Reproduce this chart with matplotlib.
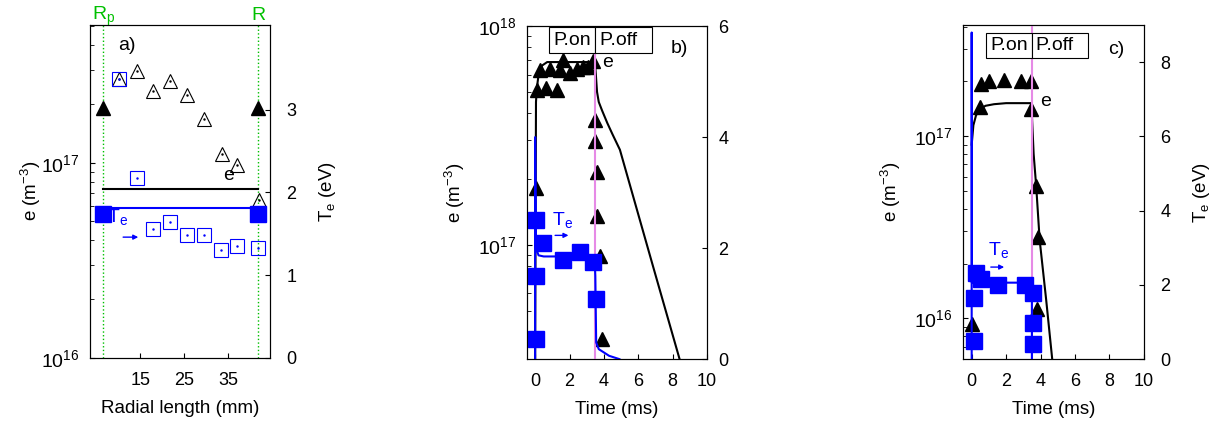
import numpy as np
import matplotlib
matplotlib.use("Agg")
import matplotlib.pyplot as plt

plt.rcParams['font.family'] = ['Liberation Sans', 'DejaVu Sans']
plt.rcParams['mathtext.fontset'] = 'custom'
plt.rcParams['mathtext.rm'] = 'Liberation Sans'
plt.rcParams['mathtext.it'] = 'Liberation Sans:italic'
plt.rcParams['font.size'] = 13

BLUE = '#0000ff'
PINK = '#e68ae6'
GREEN = '#00c000'

# ---- (a) радиальный профиль ----
Rp, R = 6.6, 41.8
a_r = [10.3, 14.2, 18.0, 21.8, 25.6, 29.4, 33.6, 37.1, 42.1]
a_ne = [2.69e17, 2.94e17, 2.32e17, 2.62e17, 2.23e17, 1.67e17, 1.11e17, 9.7e16, 6.46e16]
a_r_sq = [10.3, 14.2, 18.0, 21.8, 25.6, 29.4, 33.3, 37.0, 41.8]
a_te = [3.37, 2.17, 1.56, 1.64, 1.48, 1.48, 1.30, 1.35, 1.33]
a_r_model = [Rp, R]
a_ne_model_pts = [1.9e17, 1.9e17]
a_te_model_pts = [1.74, 1.74]
a_ne_line = [7.3e16, 7.3e16]
a_te_line = [1.81, 1.81]

# ---- (b) ----
b_t_ne = [0.0, 0.05, 0.1, 0.2, 0.4, 0.7, 3.45, 3.5, 3.6, 3.7, 3.9, 4.2, 4.5, 4.93, 6.87, 8.4]
b_ne = [3.0e16, 4.5e17, 5.2e17, 6.0e17, 6.6e17, 6.85e17, 6.85e17, 6.5e17, 5.0e17,
        4.5e17, 4.1e17, 3.6e17, 3.2e17, 2.72e17, 7.9e16, 3.0e16]
b_t_te = [0.0, 0.0, 0.05, 0.2, 0.5, 3.45, 3.5, 3.55, 3.7, 4.0, 4.3, 4.9]
b_te = [0.0, 4.0, 2.0, 1.87, 1.85, 1.85, 1.5, 0.3, 0.18, 0.12, 0.06, 0.0]
b_t_tri = [0.06, 0.1, 0.29, 0.64, 0.87, 1.26, 1.45, 1.64, 2.03, 2.42, 2.8, 3.1, 3.38,
           3.49, 3.49, 3.59, 3.62, 3.78, 3.88]
b_tri = [1.82e17, 5.1e17, 6.3e17, 5.2e17, 6.4e17, 5.1e17, 6.3e17, 7.0e17, 6.1e17,
         6.4e17, 6.5e17, 6.5e17, 6.9e17, 3.73e17, 2.97e17, 2.16e17, 1.35e17, 8.9e16, 3.7e16]
b_t_sq = [0.06, 0.45, 0.06, 0.06, 1.6, 2.6, 3.35, 3.53]
b_sq = [2.51, 2.10, 1.50, 0.36, 1.79, 1.93, 1.75, 1.08]

# ---- (c) ----
c_t_ne = [0.0, 0.1, 0.25, 0.45, 0.8, 1.3, 2.0, 3.48, 3.5, 3.6, 3.75, 3.95, 4.33, 4.68]
c_ne = [9.0e16, 1.15e17, 1.3e17, 1.4e17, 1.47e17, 1.5e17, 1.52e17, 1.52e17, 1.3e17,
        8.0e16, 5.3e16, 2.7e16, 1.26e16, 5.97e15]
c_t_te = [0.0, 0.0, 0.01, 3.5, 3.5]
c_te = [0.0, 8.8, 2.06, 2.06, 0.0]
c_t_tri = [0.0, 0.49, 0.55, 1.03, 1.9, 2.88, 3.46, 3.46, 3.75, 3.84, 3.79]
c_tri = [9.3e15, 1.45e17, 1.93e17, 2.01e17, 2.03e17, 2.01e17, 2.01e17, 1.42e17,
         5.3e16, 2.8e16, 1.13e16]
c_t_sq = [0.12, 0.12, 0.25, 0.54, 1.51, 3.1, 3.55, 3.55, 3.55]
c_sq = [0.5, 1.66, 2.33, 2.15, 2.0, 2.0, 1.77, 0.98, 0.41]

t_switch = 3.5

fig = plt.figure(figsize=(12.16, 4.25), dpi=100)


def setup(ax, ax2, rpad):
    ax.tick_params(direction='in', which='both', left=True, right=False, top=False)
    ax.tick_params(axis='x', labelsize=13, pad=10)
    ax.tick_params(axis='y', labelsize=14, pad=7.5)
    ax.tick_params(which='minor', length=3)
    ax2.tick_params(direction='in', which='both', left=False, right=True, top=False,
                    labelsize=13, pad=rpad)
    ax.xaxis.labelpad = 8


def arrow(ax2, x0, x1, y):
    ax2.annotate('', xy=(x1, y), xytext=(x0, y),
                 arrowprops=dict(arrowstyle='-|>', color=BLUE, lw=1, mutation_scale=7))


def pulse_box(ax2, y):
    box = dict(boxstyle='square,pad=0.22', fc='white', ec='k', lw=0.8)
    ax2.annotate('P.on', xy=(t_switch, y), xytext=(-3.1, 0), textcoords='offset points',
                 ha='right', va='center', fontsize=14, bbox=box)
    ax2.annotate('P.off  ', xy=(t_switch, y), xytext=(3.1, 0), textcoords='offset points',
                 ha='left', va='center', fontsize=14, bbox=box)


# (a)
ax = fig.add_axes([0.074, 0.158, 0.148, 0.784])
ax2 = ax.twinx()
setup(ax, ax2, 12)
ax.set_yscale('log')
ax.set_ylim(1e16, 5.1e17)
ax.set_xlim(3.6, 44.5)
ax2.set_ylim(0, 4.03)
ax.set_xticks([15, 25, 35])
ax2.set_yticks([0, 1, 2, 3])
ax.axvline(Rp, color=GREEN, ls=':', lw=1)
ax.axvline(R, color=GREEN, ls=':', lw=1)
ax.text(Rp, 1.015, r'R$_\mathregular{p}$', transform=ax.get_xaxis_transform(),
        color=GREEN, ha='center', va='baseline', fontsize=14)
ax.text(R, 1.015, 'R', transform=ax.get_xaxis_transform(),
        color=GREEN, ha='center', va='baseline', fontsize=14)
ax.plot(a_r_model, a_ne_line, color='k', lw=1.5)
ax.plot(a_r, a_ne, ls='none', marker='^', ms=9.5, mfc='none', mec='k', mew=0.8)
ax.plot(a_r, a_ne, ls='none', marker='.', ms=1.5, color='k')
ax.plot(a_r_model, a_ne_model_pts, ls='none', marker='^', ms=9.5, color='k')
ax2.plot(a_r_model, a_te_line, color=BLUE, lw=1.5)
ax2.plot(a_r_sq, a_te, ls='none', marker='s', ms=10, mfc='none', mec=BLUE, mew=0.8)
ax2.plot(a_r_sq, a_te, ls='none', marker='.', ms=1.5, color=BLUE)
ax2.plot(a_r_model, a_te_model_pts, ls='none', marker='s', ms=11, color=BLUE)
ax2.text(10, 3.78, 'a)', fontsize=14, va='center')
ax2.text(35, 2.2, 'e', fontsize=14, ha='center', va='center')
ax2.text(9.8, 1.7, r'T$_\mathregular{e}$', fontsize=14, color=BLUE, ha='center', va='center')
arrow(ax2, 10.5, 15.2, 1.46)
ax.set_xlabel('Radial length (mm)', fontsize=13.5)
ax.set_ylabel(r'e (m$^{-3}$)', fontsize=13.5)
ax2.set_ylabel(r'T$_\mathregular{e}$ (eV)', fontsize=13.5)
ax.yaxis.set_label_coords(-0.262, 0.5)
ax2.yaxis.set_label_coords(1.26, 0.5)

# (b)
ax = fig.add_axes([0.433, 0.155, 0.1485, 0.7835])
ax2 = ax.twinx()
setup(ax, ax2, 8)
ax.set_yscale('log')
ax.set_ylim(3.0e16, 1e18)
ax.set_xlim(-0.5, 10)
ax2.set_ylim(0, 6)
ax.set_xticks([0, 2, 4, 6, 8, 10])
ax2.set_yticks([0, 2, 4, 6])
ax.plot(b_t_ne, b_ne, color='k', lw=1.5)
ax.plot(b_t_tri, b_tri, ls='none', marker='^', ms=9.5, color='k')
ax2.axvline(t_switch, color=PINK, lw=1.5, zorder=1)
ax2.plot(b_t_te, b_te, color=BLUE, lw=1.5)
ax2.plot(b_t_sq, b_sq, ls='none', marker='s', ms=11, color=BLUE)
pulse_box(ax2, 5.75)
ax2.text(8.4, 5.6, 'b)', fontsize=14, ha='center', va='center')
ax2.text(4.2, 5.35, 'e', fontsize=14, ha='center', va='center')
ax2.text(1.6, 2.5, r'T$_\mathregular{e}$', fontsize=14, color=BLUE, ha='center', va='center')
arrow(ax2, 1.0, 2.1, 2.23)
ax.set_xlabel('Time (ms)', fontsize=13.5)
ax.set_ylabel(r'e (m$^{-3}$)', fontsize=13.5)
ax.yaxis.set_label_coords(-0.33, 0.5)

# (c)
ax = fig.add_axes([0.792, 0.155, 0.1486, 0.786])
ax2 = ax.twinx()
setup(ax, ax2, 12)
ax.set_yscale('log')
ax.set_ylim(5.97e15, 4.08e17)
ax.set_xlim(-0.5, 10)
ax2.set_ylim(0, 9)
ax.set_xticks([0, 2, 4, 6, 8, 10])
ax2.set_yticks([0, 2, 4, 6, 8])
ax.plot(c_t_ne, c_ne, color='k', lw=1.5)
ax.plot(c_t_tri, c_tri, ls='none', marker='^', ms=9.5, color='k')
ax2.axvline(t_switch, color=PINK, lw=1.5, zorder=1)
ax2.plot(c_t_te, c_te, color=BLUE, lw=1.5)
ax2.plot(c_t_sq, c_sq, ls='none', marker='s', ms=11, color=BLUE)
pulse_box(ax2, 8.45)
ax2.text(8.4, 8.35, 'c)', fontsize=14, ha='center', va='center')
ax2.text(4.3, 6.95, 'e', fontsize=14, ha='center', va='center')
ax2.text(1.55, 2.93, r'T$_\mathregular{e}$', fontsize=14, color=BLUE, ha='center', va='center')
arrow(ax2, 0.95, 2.05, 2.48)
ax.set_xlabel('Time (ms)', fontsize=13.5)
ax.set_ylabel(r'e (m$^{-3}$)', fontsize=13.5)
ax2.set_ylabel(r'T$_\mathregular{e}$ (eV)', fontsize=13.5)
ax.yaxis.set_label_coords(-0.334, 0.5)
ax2.yaxis.set_label_coords(1.264, 0.5)

fig.savefig('out.png', dpi=100)
